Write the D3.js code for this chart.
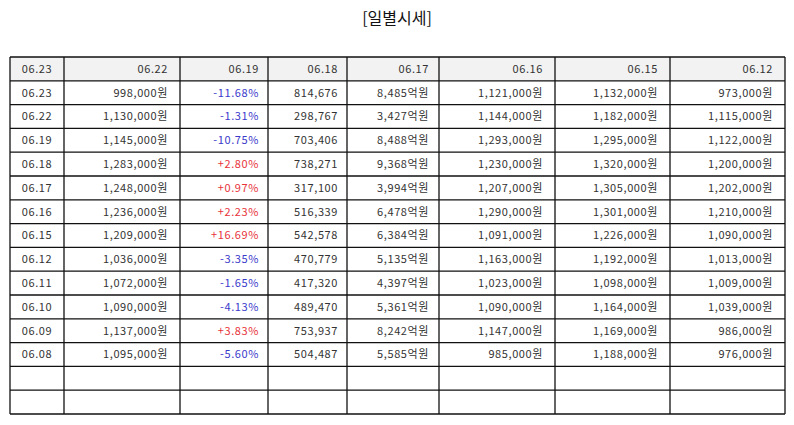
<!DOCTYPE html>
<html>
<head>
<meta charset="utf-8">
<script src="https://cdn.jsdelivr.net/npm/d3@7"></script>
<style>
  body { margin: 0; background: #fff; }
  text { font-family: "Noto Sans CJK KR", "Noto Sans", sans-serif; }
</style>
</head>
<body>
<div id="chart"></div>
<script>
const headers = ["06.23", "06.22", "06.19", "06.18", "06.17", "06.16", "06.15", "06.12"];
const dates = ["06.23", "06.22", "06.19", "06.18", "06.17", "06.16", "06.15", "06.12", "06.11", "06.10", "06.09", "06.08"];
const closePrice = [998000, 1130000, 1145000, 1283000, 1248000, 1236000, 1209000, 1036000, 1072000, 1090000, 1137000, 1095000];
const changePct = [-11.68, -1.31, -10.75, 2.80, 0.97, 2.23, 16.69, -3.35, -1.65, -4.13, 3.83, -5.60];
const volume = [814676, 298767, 703406, 738271, 317100, 516339, 542578, 470779, 417320, 489470, 753937, 504487];
const amount = [8485, 3427, 8488, 9368, 3994, 6478, 6384, 5135, 4397, 5361, 8242, 5585];
const openPrice = [1121000, 1144000, 1293000, 1230000, 1207000, 1290000, 1091000, 1163000, 1023000, 1090000, 1147000, 985000];
const highPrice = [1132000, 1182000, 1295000, 1320000, 1305000, 1301000, 1226000, 1192000, 1098000, 1164000, 1169000, 1188000];
const lowPrice = [973000, 1115000, 1122000, 1200000, 1202000, 1210000, 1090000, 1013000, 1009000, 1039000, 986000, 976000];
const emptyRows = 2;

const width = 794, height = 425;
const tableLeft = 10, tableTop = 57, tableBottom = 414;
const colWidths = [54, 116, 88, 79, 92, 116, 115, 115];
const colPad = [0, 12, 9, 9, 10, 12, 12, 12];
const edges = [tableLeft];
colWidths.forEach(w => edges.push(edges[edges.length - 1] + w));

const fmt = d3.format(",");
const won = v => fmt(v) + "원";
const pct = v => (v > 0 ? "+" : "") + v.toFixed(2) + "%";

const rows = dates.map((d, i) => [
  { t: d },
  { t: won(closePrice[i]) },
  { t: pct(changePct[i]), c: changePct[i] > 0 ? "#e8333b" : "#3a3acb" },
  { t: fmt(volume[i]) },
  { t: fmt(amount[i]) + "억원" },
  { t: won(openPrice[i]) },
  { t: won(highPrice[i]) },
  { t: won(lowPrice[i]) }
]);
for (let k = 0; k < emptyRows; k++) rows.push(headers.map(() => ({ t: "" })));
const allRows = [headers.map(h => ({ t: h }))].concat(rows);

const y = d3.scaleBand()
  .domain(d3.range(allRows.length))
  .range([tableTop, tableBottom]);

const svg = d3.select("#chart")
  .append("svg")
  .attr("width", width)
  .attr("height", height);

svg.append("text")
  .attr("x", width / 2)
  .attr("y", 24)
  .attr("text-anchor", "middle")
  .style("font-size", "16px")
  .attr("fill", "#111")
  .text("[일별시세]");

// header background
svg.append("rect")
  .attr("x", tableLeft)
  .attr("y", y(0))
  .attr("width", edges[edges.length - 1] - tableLeft)
  .attr("height", y.bandwidth())
  .attr("fill", "#f2f2f2");

const rowG = svg.selectAll(".row")
  .data(allRows)
  .join("g")
  .attr("class", "row")
  .attr("transform", (d, i) => `translate(0,${y(i) + y.bandwidth() / 2})`);

rowG.selectAll("text")
  .data(d => d)
  .join("text")
  .attr("x", (d, j) => j === 0 ? (edges[0] + edges[1]) / 2 : edges[j + 1] - colPad[j])
  .attr("text-anchor", (d, j) => j === 0 ? "middle" : "end")
  .attr("dy", "0.36em")
  .style("font-size", "11px")
  .style("letter-spacing", "0.6px")
  .attr("fill", d => d.c || "#333")
  .text(d => d.t);

// grid lines
svg.selectAll(".hline")
  .data(d3.range(allRows.length + 1))
  .join("line")
  .attr("x1", tableLeft)
  .attr("x2", edges[edges.length - 1])
  .attr("y1", i => i < allRows.length ? y(i) : tableBottom)
  .attr("y2", i => i < allRows.length ? y(i) : tableBottom)
  .attr("stroke", "#111")
  .attr("stroke-width", 1.3);

svg.selectAll(".vline")
  .data(edges)
  .join("line")
  .attr("x1", d => d)
  .attr("x2", d => d)
  .attr("y1", tableTop)
  .attr("y2", tableBottom)
  .attr("stroke", "#111")
  .attr("stroke-width", 1.3);
</script>
</body>
</html>
